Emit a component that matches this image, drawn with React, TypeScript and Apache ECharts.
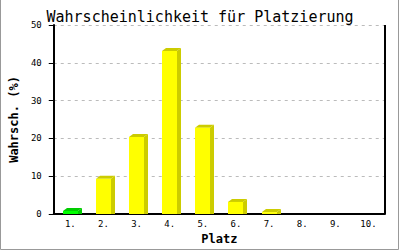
import React, { useEffect, useRef } from "react";
import * as echarts from "echarts";

const categories = ["1.", "2.", "3.", "4.", "5.", "6.", "7.", "8.", "9.", "10."];
const values = [0.8, 9.3, 20.4, 43.1, 22.8, 3.2, 0.5, 0, 0, 0];
const titleText = "Wahrscheinlichkeit für Platzierung";
const yName = "Wahrsch. (%)";
const xName = "Platz";
const yMax = 50;

const MONO = "'DejaVu Sans Mono', 'Liberation Mono', monospace";

export default function App() {
  const ref = useRef<HTMLDivElement>(null);
  useEffect(() => {
    if (!ref.current) return;
    const chart = echarts.init(ref.current, undefined, { renderer: "svg" });
    const option: any = {
      animation: false,
      backgroundColor: "#ffffff",
      title: {
        text: titleText,
        left: "center",
        top: 4,
        textStyle: { fontFamily: MONO, fontSize: 15, fontWeight: "normal", color: "#000" },
      },
      grid: { left: 43, right: 15, top: 25, bottom: 36, containLabel: false },
      xAxis: {
        type: "category",
        data: categories,
        name: xName,
        nameLocation: "middle",
        nameGap: 18,
        nameTextStyle: { fontFamily: MONO, fontSize: 12, fontWeight: "bold", color: "#000" },
        axisLine: { show: true, lineStyle: { color: "#000", width: 2 } },
        axisTick: { show: false },
        axisLabel: { fontFamily: MONO, fontSize: 9, color: "#000", margin: 5 },
        splitLine: { show: false },
      },
      yAxis: {
        type: "value",
        min: 0,
        max: yMax,
        interval: 10,
        name: yName,
        nameLocation: "middle",
        nameGap: 29,
        nameTextStyle: { fontFamily: MONO, fontSize: 12, fontWeight: "bold", color: "#000" },
        axisLine: { show: true, lineStyle: { color: "#000", width: 2 } },
        axisTick: { show: true, length: 5, lineStyle: { color: "#000", width: 1 } },
        axisLabel: { fontFamily: MONO, fontSize: 9, color: "#000", margin: 12 },
        splitLine: { show: true, lineStyle: { color: "#bbbbbb", type: [3, 4], width: 1 } },
      },
      series: [
        {
          type: "custom",
          data: values.map((v, i) => [i, v]),
          z: 1,
          renderItem: (params: any, api: any) => {
            const idx = api.value(0);
            const val = api.value(1);
            if (!val) return { type: "group", children: [] };
            const top = api.coord([idx, val]);
            const base = api.coord([idx, 0]);
            const w = 15;
            const dx = 4;
            const dy = 3;
            const x0 = Math.round(top[0] - w / 2);
            const x1 = x0 + w;
            const yT = top[1];
            const yB = base[1];
            const front = idx === 0 ? "#00ff00" : "#ffff00";
            const dark = idx === 0 ? "#00cc00" : "#cccc00";
            return {
              type: "group",
              children: [
                {
                  type: "polygon",
                  shape: { points: [[x1, yT], [x1 + dx, yT - dy], [x1 + dx, yB], [x1, yB]] },
                  style: { fill: dark },
                },
                {
                  type: "polygon",
                  shape: { points: [[x0, yT], [x0 + dx, yT - dy], [x1 + dx, yT - dy], [x1, yT]] },
                  style: { fill: dark },
                },
                {
                  type: "rect",
                  shape: { x: x0, y: yT, width: w, height: yB - yT },
                  style: { fill: front },
                },
              ],
            };
          },
        },
      ],
    };
    chart.setOption(option);
    const pTop = chart.convertToPixel({ gridIndex: 0 }, [categories.length - 1, yMax]);
    const pBot = chart.convertToPixel({ gridIndex: 0 }, [categories.length - 1, 0]);
    const grid = (chart as any).getModel().getComponent("grid", 0).coordinateSystem.getRect();
    const xr = grid.x + grid.width;
    chart.setOption({
      graphic: [
        {
          type: "line",
          shape: { x1: xr, y1: pTop[1], x2: xr, y2: pBot[1] },
          style: { stroke: "#000000", lineWidth: 2 },
          silent: true,
          z: 10,
        },
        {
          type: "polyline",
          shape: { points: [[0.5, 0], [0.5, 249.5], [398.5, 249.5], [398.5, 0]] },
          style: { stroke: "#999999", lineWidth: 1, fill: null },
          silent: true,
        },
      ],
    });
    return () => chart.dispose();
  }, []);
  return (
    <div
      ref={ref}
      style={{ position: "fixed", left: 0, top: 0, width: 400, height: 250 }}
    />
  );
}
